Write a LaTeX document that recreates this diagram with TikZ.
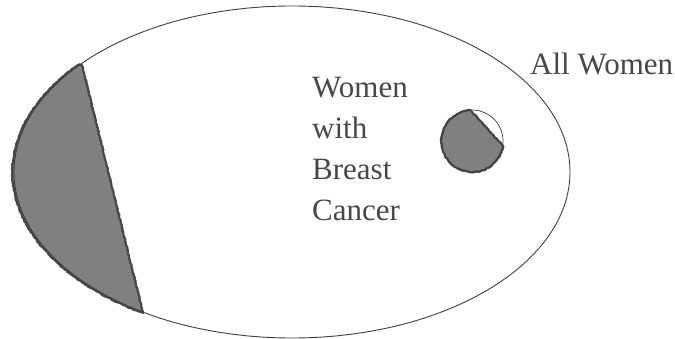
\documentclass[tikz,border=0pt]{standalone}
\usepackage{fontspec}
\setmainfont{Liberation Serif}
\usetikzlibrary{decorations.pathmorphing}
\tikzset{
  outline/.style={draw=black!75, line width=0.9pt},
  shaded/.style={fill=black!50, draw=black!72, line width=2.2pt, line join=round,
    decorate, decoration={random steps, segment length=1.2pt, amplitude=0.5pt}},
  label/.style={text=black!72, font=\fontsize{31}{41}\selectfont, inner sep=0pt}
}

\begin{document}
\begin{tikzpicture}[x=1pt, y=-1pt]
  \useasboundingbox (0,0) rectangle (675,339);
  % shaded part of all women
  \path[shaded] (82,65) -- (143,313)
    arc[start angle=122, end angle=220.5, x radius=278, y radius=166] -- cycle;
  \draw[outline] (292,172) ellipse[x radius=278, y radius=166];
  % breast cancer set
  \path[shaded] (503,146)
    arc[start angle=9.2, end angle=266.3, radius=31] -- cycle;
  \draw[outline, line width=0.7pt] (472,141) circle[radius=31];
  \node[label, align=left, anchor=north west] (bc) at (312,77) {Women\\with\\Breast\\Cancer};
  \node[label, anchor=base west] (all) at (530,75) {All Women};
\end{tikzpicture}
\end{document}
